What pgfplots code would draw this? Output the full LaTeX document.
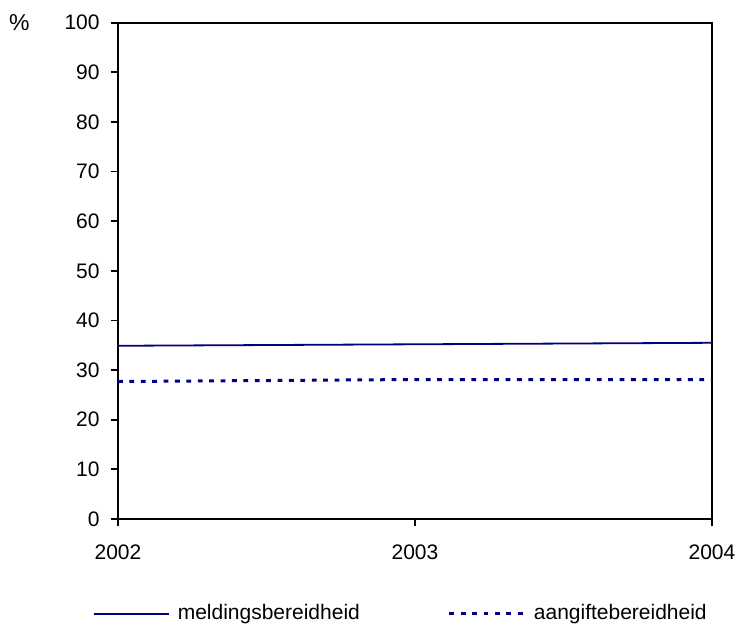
\documentclass[border=0pt]{standalone}
\usepackage{fontspec}
\setmainfont{Liberation Sans}
\usepackage{pgfplots}
\pgfplotsset{compat=1.18}
\definecolor{navyline}{RGB}{0,0,128}
\begin{document}
\fontsize{10.5pt}{12.5pt}\selectfont
\begin{tikzpicture}
\begin{axis}[
  scale only axis,
  width=297pt, height=248.15pt,
  xmin=2002, xmax=2004,
  ymin=0, ymax=100,
  xtick={2002,2003,2004},
  xticklabels={2002,2003,2004},
  ytick={0,10,...,100},
  tick align=outside,
  xtick pos=bottom, ytick pos=left,
  major tick length=3.7pt,
  axis line style={line width=1.1pt},
  tick style={line width=0.9pt, black},
  /pgf/number format/assume math mode=true,
  ticklabel style={font=\fontsize{10.5pt}{12.5pt}\selectfont},
  yticklabel style={inner sep=0pt, xshift=-5.3pt},
  xticklabel style={inner sep=0pt, yshift=-8.9pt},
  legend style={draw=none, fill=none, at={(-0.0421,-0.191)}, anchor=west,
    legend columns=2, font=\fontsize{10.5pt}{12.5pt}\selectfont,
    inner sep=0pt, outer sep=0pt,
    nodes={inner sep=0pt, outer sep=0pt},
    /tikz/every odd column/.append style={column sep=4pt},
    /tikz/every even column/.append style={column sep=44pt}},
  legend image code/.code={\draw[#1] (0pt,0pt) -- (37.5pt,0pt);},
  legend cell align=left,
  clip=false,
]
\addplot[navyline, line width=0.9pt] coordinates {(2002,34.9) (2003,35.2) (2004,35.5)};
\addlegendentry{meldingsbereidheid}
\addplot[navyline, line width=1.5pt, dash pattern=on 2.4pt off 3.3pt] coordinates {(2002,27.7) (2003,28.1) (2004,28.1)};
\addlegendentry[xshift=-2.5pt]{aangiftebereidheid}
\node at (rel axis cs:-0.166,1) {\fontsize{11.5pt}{13pt}\selectfont\%};
\end{axis}
\pgfresetboundingbox
\path[use as bounding box] (-59pt,-53pt) rectangle (309pt,259.5pt);
\end{tikzpicture}
\end{document}
